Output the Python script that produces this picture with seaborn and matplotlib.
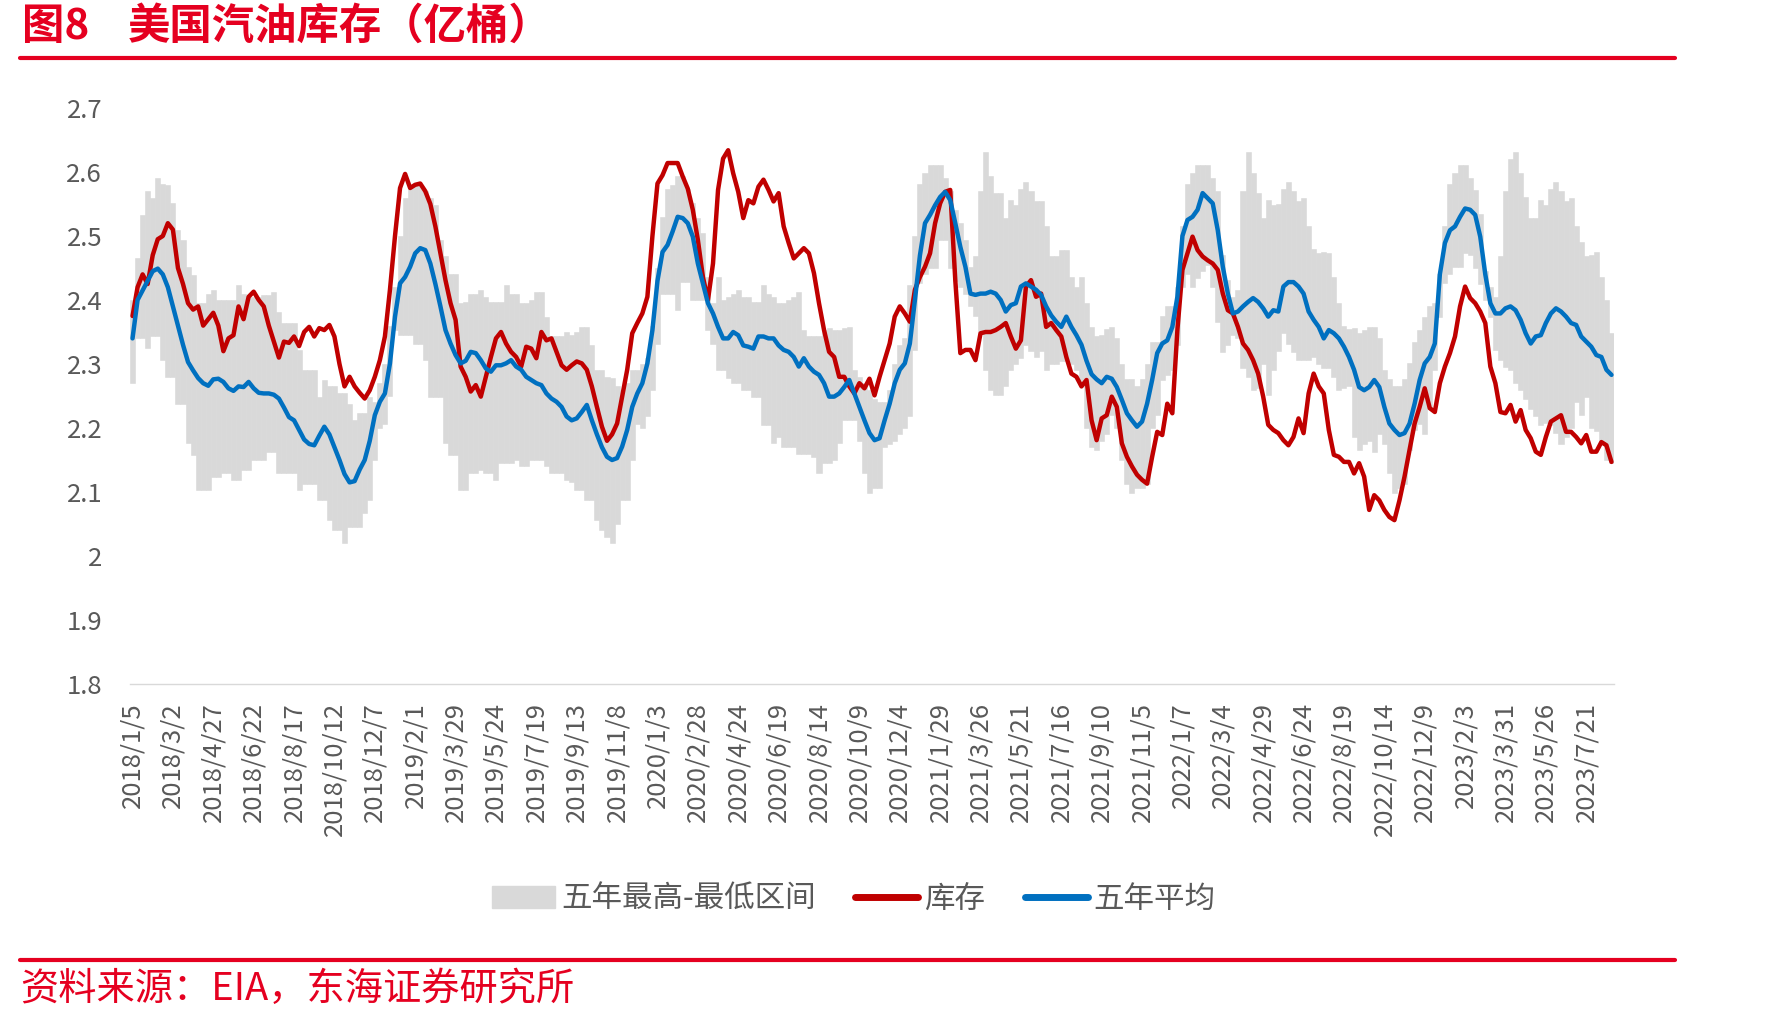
import matplotlib
matplotlib.use('Agg')
import matplotlib.pyplot as plt
from matplotlib.patches import Patch
from matplotlib.lines import Line2D
import seaborn as sns
import numpy as np

# --- Data (weekly) ---
tick_labels = [
    '2018/1/5', '2018/3/2', '2018/4/27', '2018/6/22', '2018/8/17', '2018/10/12', '2018/12/7',
    '2019/2/1', '2019/3/29', '2019/5/24', '2019/7/19', '2019/9/13', '2019/11/8',
    '2020/1/3', '2020/2/28', '2020/4/24', '2020/6/19', '2020/8/14', '2020/10/9', '2020/12/4',
    '2021/1/29', '2021/3/26', '2021/5/21', '2021/7/16', '2021/9/10', '2021/11/5',
    '2022/1/7', '2022/3/4', '2022/4/29', '2022/6/24', '2022/8/19', '2022/10/14', '2022/12/9',
    '2023/2/3', '2023/3/31', '2023/5/26', '2023/7/21',
]
tick_step = 8

stock = [
    2.375, 2.42, 2.44, 2.425, 2.47, 2.495, 2.50, 2.52, 2.51, 2.45,
    2.425, 2.395, 2.385, 2.39, 2.36, 2.37, 2.38, 2.36, 2.32, 2.34,
    2.345, 2.39, 2.37, 2.405, 2.413, 2.40, 2.39, 2.36, 2.335, 2.31,
    2.335, 2.333, 2.343, 2.328, 2.35, 2.358, 2.343, 2.356, 2.353, 2.361,
    2.343, 2.30, 2.265, 2.28, 2.265, 2.255, 2.246, 2.259, 2.28, 2.306,
    2.343, 2.416, 2.50, 2.575, 2.597, 2.575, 2.58, 2.582, 2.57, 2.55,
    2.515, 2.473, 2.431, 2.395, 2.369, 2.296, 2.28, 2.257, 2.267, 2.249,
    2.28, 2.311, 2.34, 2.35, 2.332, 2.319, 2.311, 2.296, 2.327, 2.324,
    2.309, 2.35, 2.337, 2.34, 2.319, 2.298, 2.291, 2.298, 2.304, 2.301,
    2.291, 2.265, 2.233, 2.202, 2.18, 2.19, 2.207, 2.249, 2.291, 2.348,
    2.364, 2.379, 2.405, 2.50, 2.582, 2.595, 2.614, 2.614, 2.614, 2.593,
    2.574, 2.541, 2.494, 2.436, 2.40, 2.457, 2.572, 2.621, 2.634, 2.598,
    2.569, 2.528, 2.556, 2.551, 2.577, 2.588, 2.572, 2.554, 2.567, 2.515,
    2.489, 2.465, 2.473, 2.481, 2.473, 2.442, 2.395, 2.353, 2.319, 2.311,
    2.28, 2.28, 2.265, 2.254, 2.27, 2.262, 2.277, 2.251, 2.28, 2.306,
    2.332, 2.374, 2.39, 2.379, 2.366, 2.416, 2.436, 2.452, 2.473, 2.52,
    2.551, 2.569, 2.572, 2.431, 2.317, 2.322, 2.322, 2.306, 2.348, 2.35,
    2.35, 2.353, 2.358, 2.364, 2.343, 2.324, 2.337, 2.421, 2.431, 2.405,
    2.41, 2.358, 2.364, 2.353, 2.343, 2.311, 2.285, 2.28, 2.265, 2.275,
    2.212, 2.181, 2.215, 2.22, 2.249, 2.233, 2.176, 2.155, 2.14, 2.127,
    2.119, 2.113, 2.155, 2.194, 2.189, 2.238, 2.223, 2.353, 2.447, 2.473,
    2.499, 2.478, 2.468, 2.462, 2.457, 2.447, 2.41, 2.384, 2.379, 2.358,
    2.332, 2.322, 2.306, 2.285, 2.249, 2.205, 2.197, 2.192, 2.181, 2.173,
    2.186, 2.215, 2.192, 2.254, 2.285, 2.265, 2.254, 2.197, 2.158, 2.155,
    2.147, 2.147, 2.129, 2.145, 2.124, 2.072, 2.095, 2.087, 2.072, 2.061,
    2.056, 2.087, 2.124, 2.166, 2.207, 2.233, 2.262, 2.231, 2.225, 2.27,
    2.296, 2.317, 2.343, 2.39, 2.421, 2.403, 2.395, 2.382, 2.364, 2.296,
    2.27, 2.225, 2.223, 2.236, 2.21, 2.228, 2.197, 2.184, 2.163, 2.158,
    2.186, 2.21, 2.215, 2.22, 2.194, 2.194, 2.186, 2.176, 2.189, 2.163,
    2.163, 2.178, 2.173, 2.147,
]

avg5 = [
    2.34, 2.40, 2.415, 2.43, 2.445, 2.449, 2.44, 2.42, 2.39, 2.36,
    2.33, 2.303, 2.29, 2.278, 2.27, 2.266, 2.276, 2.277, 2.272, 2.262,
    2.258, 2.265, 2.264, 2.272, 2.262, 2.255, 2.254, 2.254, 2.252, 2.246,
    2.232, 2.217, 2.212, 2.197, 2.182, 2.175, 2.173, 2.188, 2.202, 2.19,
    2.17, 2.15, 2.128, 2.115, 2.117, 2.135, 2.15, 2.18, 2.22, 2.241,
    2.254, 2.301, 2.374, 2.426, 2.436, 2.452, 2.473, 2.481, 2.478, 2.457,
    2.425, 2.39, 2.353, 2.332, 2.314, 2.301, 2.305, 2.319, 2.317, 2.306,
    2.293, 2.288, 2.298, 2.298, 2.301, 2.306, 2.296, 2.291, 2.28, 2.275,
    2.27, 2.267, 2.254, 2.246, 2.241, 2.233, 2.218, 2.212, 2.215, 2.225,
    2.236, 2.212, 2.19, 2.17, 2.155, 2.15, 2.153, 2.171, 2.197, 2.233,
    2.254, 2.27, 2.301, 2.353, 2.43, 2.475, 2.486, 2.507, 2.53, 2.528,
    2.52, 2.499, 2.457, 2.426, 2.395, 2.379, 2.358, 2.34, 2.34, 2.35,
    2.345, 2.329, 2.327, 2.324, 2.343, 2.343, 2.34, 2.34, 2.329, 2.322,
    2.319, 2.311, 2.296, 2.309, 2.296, 2.288, 2.283, 2.27, 2.249, 2.249,
    2.254, 2.264, 2.275, 2.254, 2.233, 2.212, 2.192, 2.181, 2.184, 2.212,
    2.238, 2.27, 2.291, 2.301, 2.332, 2.40, 2.47, 2.52, 2.533, 2.548,
    2.561, 2.569, 2.556, 2.52, 2.483, 2.452, 2.41, 2.408, 2.41, 2.41,
    2.413, 2.41, 2.40, 2.382, 2.392, 2.395, 2.421, 2.426, 2.421, 2.416,
    2.408, 2.39, 2.376, 2.366, 2.358, 2.374, 2.358, 2.345, 2.33, 2.305,
    2.284, 2.276, 2.27, 2.28, 2.277, 2.264, 2.244, 2.223, 2.212, 2.202,
    2.21, 2.238, 2.275, 2.317, 2.332, 2.337, 2.358, 2.405, 2.50, 2.525,
    2.53, 2.541, 2.567, 2.559, 2.551, 2.509, 2.452, 2.41, 2.379, 2.382,
    2.39, 2.397, 2.403, 2.397, 2.387, 2.374, 2.384, 2.382, 2.421, 2.428,
    2.428, 2.421, 2.41, 2.382, 2.369, 2.358, 2.34, 2.353, 2.348, 2.34,
    2.327, 2.311, 2.291, 2.264, 2.259, 2.264, 2.275, 2.264, 2.233, 2.207,
    2.197, 2.189, 2.192, 2.207, 2.238, 2.275, 2.301, 2.311, 2.332, 2.44,
    2.489, 2.509, 2.515, 2.53, 2.543, 2.541, 2.533, 2.499, 2.44, 2.395,
    2.379, 2.379, 2.387, 2.39, 2.384, 2.369, 2.348, 2.332, 2.343, 2.345,
    2.364, 2.379, 2.387, 2.382, 2.374, 2.364, 2.361, 2.343, 2.335, 2.327,
    2.314, 2.311, 2.291, 2.283,
]

band_high = [
    2.40, 2.465, 2.533, 2.57, 2.56, 2.59, 2.582, 2.58, 2.551, 2.51,
    2.494, 2.452, 2.439, 2.395, 2.395, 2.41, 2.416, 2.40, 2.40, 2.40,
    2.40, 2.423, 2.41, 2.405, 2.405, 2.405, 2.408, 2.408, 2.413, 2.382,
    2.364, 2.364, 2.364, 2.322, 2.291, 2.291, 2.291, 2.249, 2.275, 2.265,
    2.265, 2.254, 2.254, 2.238, 2.212, 2.223, 2.223, 2.249, 2.24, 2.27,
    2.30, 2.36, 2.42, 2.50, 2.56, 2.58, 2.58, 2.58, 2.57, 2.56,
    2.548, 2.494, 2.468, 2.44, 2.44, 2.395, 2.397, 2.41, 2.41, 2.416,
    2.405, 2.397, 2.397, 2.397, 2.423, 2.41, 2.41, 2.395, 2.395, 2.40,
    2.413, 2.413, 2.374, 2.343, 2.343, 2.343, 2.35, 2.345, 2.35, 2.358,
    2.358, 2.33, 2.291, 2.29, 2.28, 2.278, 2.265, 2.26, 2.27, 2.29,
    2.29, 2.30, 2.31, 2.36, 2.45, 2.53, 2.574, 2.58, 2.593, 2.593,
    2.574, 2.551, 2.528, 2.504, 2.436, 2.395, 2.436, 2.40, 2.405, 2.41,
    2.416, 2.405, 2.405, 2.397, 2.397, 2.423, 2.41, 2.405, 2.395, 2.395,
    2.40, 2.405, 2.413, 2.353, 2.343, 2.343, 2.343, 2.353, 2.356, 2.353,
    2.353, 2.356, 2.358, 2.29, 2.28, 2.27, 2.26, 2.245, 2.24, 2.24,
    2.26, 2.30, 2.33, 2.34, 2.423, 2.50, 2.582, 2.598, 2.611, 2.611,
    2.611, 2.59, 2.57, 2.54, 2.52, 2.494, 2.452, 2.468, 2.57, 2.632,
    2.593, 2.567, 2.567, 2.528, 2.556, 2.548, 2.574, 2.585, 2.57, 2.554,
    2.554, 2.515, 2.468, 2.468, 2.478, 2.478, 2.436, 2.421, 2.436, 2.395,
    2.358, 2.343, 2.345, 2.355, 2.358, 2.34, 2.30, 2.277, 2.277, 2.265,
    2.277, 2.30, 2.335, 2.335, 2.375, 2.39, 2.39, 2.42, 2.515, 2.582,
    2.598, 2.611, 2.611, 2.611, 2.59, 2.57, 2.47, 2.431, 2.405, 2.415,
    2.57, 2.632, 2.598, 2.567, 2.528, 2.556, 2.548, 2.55, 2.574, 2.585,
    2.57, 2.554, 2.56, 2.515, 2.48, 2.473, 2.475, 2.473, 2.436, 2.395,
    2.36, 2.355, 2.356, 2.348, 2.353, 2.358, 2.358, 2.34, 2.29, 2.277,
    2.265, 2.265, 2.277, 2.301, 2.335, 2.353, 2.374, 2.39, 2.395, 2.44,
    2.515, 2.582, 2.598, 2.611, 2.611, 2.59, 2.572, 2.535, 2.445, 2.42,
    2.405, 2.468, 2.57, 2.621, 2.632, 2.598, 2.561, 2.528, 2.528, 2.556,
    2.548, 2.574, 2.585, 2.57, 2.554, 2.56, 2.515, 2.49, 2.468, 2.47,
    2.475, 2.436, 2.40, 2.348,
]

band_low = [
    2.27, 2.34, 2.34, 2.325, 2.343, 2.343, 2.306, 2.28, 2.28, 2.238,
    2.238, 2.176, 2.158, 2.103, 2.103, 2.103, 2.124, 2.124, 2.129, 2.129,
    2.119, 2.119, 2.134, 2.134, 2.15, 2.15, 2.15, 2.163, 2.163, 2.129,
    2.129, 2.129, 2.129, 2.103, 2.113, 2.113, 2.113, 2.087, 2.087, 2.056,
    2.04, 2.04, 2.02, 2.046, 2.046, 2.046, 2.067, 2.087, 2.15, 2.20,
    2.207, 2.25, 2.353, 2.345, 2.345, 2.345, 2.332, 2.332, 2.306, 2.249,
    2.249, 2.249, 2.176, 2.158, 2.158, 2.103, 2.103, 2.129, 2.129, 2.134,
    2.129, 2.129, 2.119, 2.145, 2.145, 2.145, 2.15, 2.14, 2.14, 2.15,
    2.15, 2.15, 2.14, 2.129, 2.129, 2.129, 2.119, 2.115, 2.103, 2.103,
    2.087, 2.087, 2.056, 2.04, 2.03, 2.02, 2.05, 2.087, 2.087, 2.15,
    2.207, 2.20, 2.218, 2.26, 2.332, 2.41, 2.41, 2.41, 2.384, 2.428,
    2.428, 2.40, 2.40, 2.40, 2.353, 2.332, 2.29, 2.29, 2.278, 2.27,
    2.27, 2.259, 2.259, 2.249, 2.249, 2.205, 2.205, 2.176, 2.186, 2.171,
    2.171, 2.171, 2.16, 2.16, 2.16, 2.155, 2.129, 2.145, 2.145, 2.15,
    2.176, 2.212, 2.212, 2.212, 2.18, 2.129, 2.098, 2.106, 2.106, 2.171,
    2.175, 2.18, 2.19, 2.20, 2.218, 2.322, 2.426, 2.44, 2.45, 2.45,
    2.494, 2.494, 2.45, 2.43, 2.42, 2.41, 2.39, 2.375, 2.35, 2.29,
    2.259, 2.251, 2.251, 2.265, 2.29, 2.30, 2.31, 2.33, 2.32, 2.311,
    2.32, 2.29, 2.30, 2.30, 2.305, 2.305, 2.30, 2.29, 2.27, 2.20,
    2.17, 2.166, 2.18, 2.19, 2.22, 2.20, 2.15, 2.113, 2.098, 2.106,
    2.106, 2.113, 2.20, 2.22, 2.275, 2.283, 2.29, 2.33, 2.42, 2.44,
    2.421, 2.435, 2.445, 2.455, 2.421, 2.365, 2.319, 2.33, 2.345, 2.34,
    2.293, 2.28, 2.259, 2.262, 2.30, 2.251, 2.29, 2.32, 2.348, 2.332,
    2.319, 2.306, 2.306, 2.306, 2.311, 2.30, 2.293, 2.293, 2.28, 2.259,
    2.262, 2.265, 2.186, 2.166, 2.175, 2.18, 2.163, 2.19, 2.175, 2.129,
    2.098, 2.106, 2.113, 2.166, 2.197, 2.207, 2.19, 2.23, 2.29, 2.374,
    2.426, 2.44, 2.452, 2.452, 2.473, 2.47, 2.45, 2.425, 2.40, 2.374,
    2.322, 2.306, 2.296, 2.29, 2.27, 2.259, 2.245, 2.23, 2.218, 2.205,
    2.208, 2.205, 2.192, 2.175, 2.186, 2.20, 2.24, 2.22, 2.249, 2.20,
    2.195, 2.18, 2.15, 2.145,
]

y_ticks = [1.8, 1.9, 2.0, 2.1, 2.2, 2.3, 2.4, 2.5, 2.6, 2.7]
y_tick_labels = ['1.8', '1.9', '2', '2.1', '2.2', '2.3', '2.4', '2.5', '2.6', '2.7']

legend_labels = ['五年最高-最低区间', '库存', '五年平均']
title_num = '图8'
title_text = '美国汽油库存（亿桶）'
source_text = '资料来源：EIA，东海证券研究所'

# --- Style ---
RED_BRAND = '#E50020'
RED_LINE = '#C00000'
BLUE_LINE = '#0070C0'
BAND = '#D9D9D9'
TEXT_GRAY = '#595959'

sns.set_style('white')
plt.rcParams['font.family'] = ['Noto Sans CJK SC', 'DejaVu Sans']

W, H = 1771, 1022
fig = plt.figure(figsize=(W / 100, H / 100), dpi=100)
ax = fig.add_axes([130 / W, 1 - 684 / H, (1614 - 130) / W, (684 - 108) / H])

n = len(stock)
x = np.arange(n)
hi = np.array(band_high)
lo = np.array(band_low)

# range band drawn as touching columns
ax.bar(x, hi - lo, bottom=lo, width=1.0, color=BAND, edgecolor=BAND,
       linewidth=0.4, zorder=1)
sns.lineplot(x=x, y=stock, ax=ax, color=RED_LINE, linewidth=3.2,
             solid_joinstyle='round', solid_capstyle='round', zorder=3)
sns.lineplot(x=x, y=avg5, ax=ax, color=BLUE_LINE, linewidth=3.2,
             solid_joinstyle='round', solid_capstyle='round', zorder=4)

ax.set_xlim(-0.5, n - 0.5)
ax.set_ylim(1.8, 2.7)

# axes / ticks
for side in ['top', 'right', 'left']:
    ax.spines[side].set_visible(False)
ax.spines['bottom'].set_color(BAND)
ax.spines['bottom'].set_linewidth(1.0)

xlabels = [''] * n
for i, lab in enumerate(tick_labels):
    xlabels[i * tick_step] = lab
ax.set_xticks(x)
ax.set_xticklabels(xlabels, rotation=90, fontsize=18.5, color=TEXT_GRAY)
ax.tick_params(axis='x', length=4, width=0.8, color=BAND, direction='out', pad=9)

ax.set_yticks(y_ticks)
ax.set_yticklabels(y_tick_labels, fontsize=18.5, color=TEXT_GRAY)
ax.tick_params(axis='y', length=0, pad=20)
ax.grid(False)
ax.set_xlabel('')
ax.set_ylabel('')

# legend
handles = [
    Patch(facecolor=BAND, edgecolor=BAND),
    Line2D([], [], color=RED_LINE, linewidth=5, solid_capstyle='round'),
    Line2D([], [], color=BLUE_LINE, linewidth=5, solid_capstyle='round'),
]
fig.legend(handles, legend_labels, loc='center', bbox_to_anchor=(854 / W, 1 - 899 / H),
           ncol=3, frameon=False, fontsize=22, labelcolor=TEXT_GRAY,
           handlelength=2.05, handleheight=0.75, handletextpad=0.2, columnspacing=1.3)

# title, rules and source
fig.text(22 / W, 1 - 27 / H, title_num, color=RED_BRAND, fontsize=30.5,
         fontweight='bold', ha='left', va='center')
fig.text(128 / W, 1 - 27 / H, title_text, color=RED_BRAND, fontsize=30.5,
         fontweight='bold', ha='left', va='center')
fig.add_artist(Line2D([20 / W, 1675 / W], [1 - 58 / H, 1 - 58 / H],
                      transform=fig.transFigure, color=RED_BRAND, linewidth=3))
fig.add_artist(Line2D([20 / W, 1675 / W], [1 - 960 / H, 1 - 960 / H],
                      transform=fig.transFigure, color=RED_BRAND, linewidth=3))
fig.text(20 / W, 1 - 989 / H, source_text, color=RED_BRAND, fontsize=27.5,
         ha='left', va='center')

fig.savefig('out.png', dpi=100)
